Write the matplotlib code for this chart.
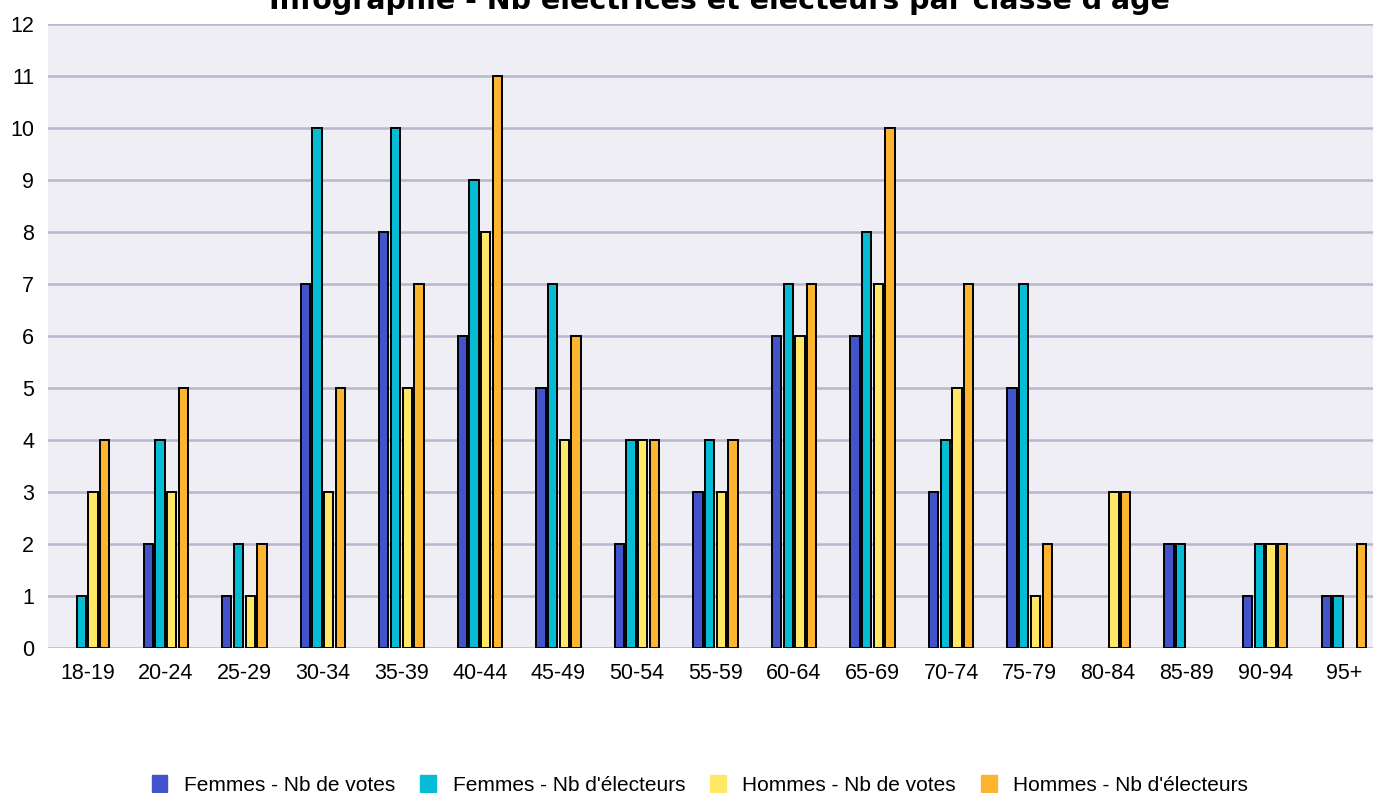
import matplotlib
matplotlib.use("Agg")
import matplotlib.pyplot as plt
import numpy as np

classes = ["18-19", "20-24", "25-29", "30-34", "35-39", "40-44", "45-49", "50-54",
           "55-59", "60-64", "65-69", "70-74", "75-79", "80-84", "85-89", "90-94", "95+"]
femmes_votes = [0, 2, 1, 7, 8, 6, 5, 2, 3, 6, 6, 3, 5, 0, 2, 1, 1]
femmes_electeurs = [1, 4, 2, 10, 10, 9, 7, 4, 4, 7, 8, 4, 7, 0, 2, 2, 1]
hommes_votes = [3, 3, 1, 3, 5, 8, 4, 4, 3, 6, 7, 5, 1, 3, 0, 2, 0]
hommes_electeurs = [4, 5, 2, 5, 7, 11, 6, 4, 4, 7, 10, 7, 2, 3, 0, 2, 2]

series = [
    ("Femmes - Nb de votes", femmes_votes, "#4353cc"),
    ("Femmes - Nb d'électeurs", femmes_electeurs, "#06bcd4"),
    ("Hommes - Nb de votes", hommes_votes, "#ffe866"),
    ("Hommes - Nb d'électeurs", hommes_electeurs, "#fdb52f"),
]

plt.rcParams['font.family'] = ['Liberation Sans', 'DejaVu Sans']

fig = plt.figure(figsize=(13.73, 7.93), dpi=100)
ax = fig.add_axes([48 / 1373, 145.5 / 793, 1335 / 1373, 624 / 793])
ax.set_facecolor("#efeef4")

x = np.arange(len(classes))
pitch = 0.149
width = 0.118
handles = []
for i, (name, vals, col) in enumerate(series):
    vals = np.array(vals)
    keep = vals > 0
    ax.bar(x[keep] + (i - 1.5) * pitch, vals[keep], width=width, color=col,
           edgecolor="black", linewidth=1.4, zorder=3)
    handles.append(plt.Rectangle((0, 0), 1, 1, color=col))

ax.set_xlim(-0.5, len(classes) - 0.5)
ax.set_ylim(0, 12)
ax.set_yticks(range(0, 13))
ax.set_xticks(x)
ax.set_xticklabels(classes)
ax.tick_params(axis="both", length=0, labelsize=15.5)
ax.tick_params(axis="x", pad=11)
ax.tick_params(axis="y", pad=10)
ax.grid(axis="y", color="#b8b6cc", linewidth=1.8, zorder=1)
ax.set_axisbelow(True)
for s in ax.spines.values():
    s.set_visible(False)

# title sits partly above the canvas, as in the original export
fig.text(719, 793 - 9, "Infographie - Nb électrices et électeurs par classe d'âge",
         transform=None, ha="center", va="baseline", fontsize=20.5,
         fontweight="bold", family="DejaVu Sans")

fig.legend(handles, [s[0] for s in series], loc="center", ncol=4,
           bbox_to_anchor=(700 / 1373, 8 / 793), frameon=False, fontsize=15,
           handlelength=0.75, handleheight=0.85, handletextpad=0.8,
           columnspacing=1.2)

fig.savefig("out.png", dpi=100)
